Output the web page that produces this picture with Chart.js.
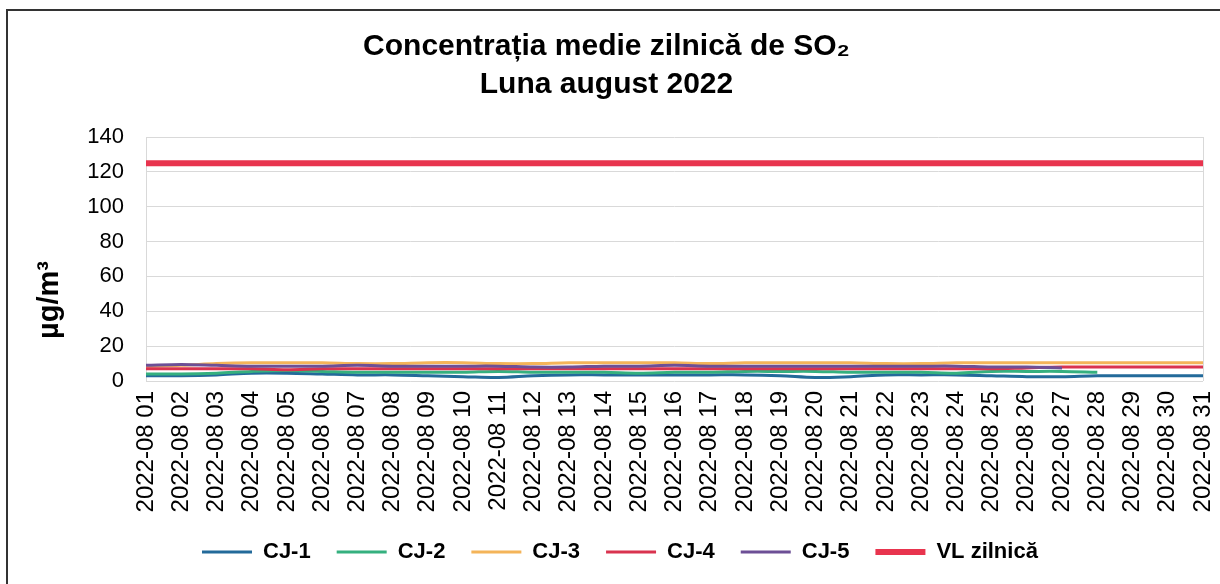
<!DOCTYPE html>
<html>
<head>
<meta charset="utf-8">
<script src="https://cdn.jsdelivr.net/npm/chart.js@4.4.1/dist/chart.umd.min.js"></script>
<style>
  html, body { margin: 0; padding: 0; background: #fff; overflow: hidden; }
  #wrap { position: relative; width: 1220px; height: 584px; }
  #frame { position: absolute; left: 6px; top: 9px; width: 1230px; height: 600px; border: 2px solid #333; box-sizing: border-box; }
  canvas { position: absolute; left: 0; top: 0; }
</style>
</head>
<body>
<div id="wrap">
  <div id="frame"></div>
  <canvas id="chart" width="1220" height="584"></canvas>
</div>
<script>
const days = [];
for (let d = 1; d <= 31; d++) days.push('2022-08 ' + String(d).padStart(2, '0'));

const cj1 = [3, 3, 3.5, 4.5, 4.5, 4, 3.5, 3.5, 3, 2.5, 2, 3, 3.5, 3.5, 3.5, 3.5, 3.5, 3.5, 3, 2, 2.5, 3.5, 3.5, 3.5, 3, 2.5, 2.5, 3, 3, 3, 3];
const cj2 = [4, 4, 4.5, 5.5, 6, 5.5, 5, 5, 5, 5, 5.5, 5, 5, 5, 4.5, 5, 5, 5.5, 5.5, 5.5, 5, 5, 5, 4.5, 5.5, 5.5, 5.5, 5, null, null, null];
const cj3 = [8.5, 9, 10, 10.5, 10.5, 10.5, 10, 10, 10.5, 10.5, 10, 10, 10.5, 10.5, 10.5, 10.5, 10, 10.5, 10.5, 10.5, 10.5, 10, 10, 10.5, 10.5, 10.5, 10.5, 10.5, 10.5, 10.5, 10.5];
const cj4 = [7, 7, 7, 7, 6.5, 7, 7, 7, 7, 7, 7, 7, 7, 7, 7, 7, 7, 7, 7, 7, 7, 7, 7, 7, 7, 7.5, 8, 8, 8, 8, 8];
const cj5 = [9, 9.5, 9, 8.5, 8.5, 8.5, 9, 8.5, 8.5, 8.5, 8.5, 8, 8, 8.5, 8.5, 9, 8.5, 8.5, 8.5, 8.5, 8.5, 8.5, 8.5, 8.5, 8, 8, 7.5, null, null, null, null];
const vl = days.map(() => 125);

const names = ['CJ-1', 'CJ-2', 'CJ-3', 'CJ-4', 'CJ-5', 'VL zilnică'];
const colors = ['#236a9a', '#35b07f', '#f4b459', '#d9334f', '#6d4f96', '#e8344e'];
const widths = [3, 3, 3, 3, 3, 6];
const series = [cj1, cj2, cj3, cj4, cj5, vl];

Chart.defaults.font.family = '"Liberation Sans", Arial, sans-serif';
Chart.defaults.color = '#000';

// y title drawn by hand, it sits below the axis middle in the original
const yTitle = {
  id: 'yTitle',
  afterDraw(chart) {
    const ctx = chart.ctx;
    ctx.save();
    ctx.translate(50, 300);
    ctx.rotate(-Math.PI / 2);
    ctx.font = 'bold 29px "Liberation Sans", Arial, sans-serif';
    ctx.fillStyle = '#000';
    ctx.textAlign = 'center';
    ctx.textBaseline = 'middle';
    ctx.fillText('µg/m³', 0, 0);
    ctx.restore();
  }
};

// place legend row like the original
const legendShift = {
  id: 'legendShift',
  afterLayout(chart) {
    chart.legend.left = 176;
    chart.legend.top = 515;
  }
};

new Chart(document.getElementById('chart'), {
  type: 'line',
  data: {
    labels: days,
    datasets: series.map((s, i) => ({
      label: names[i],
      data: s,
      borderColor: colors[i],
      backgroundColor: colors[i],
      borderWidth: widths[i],
      pointRadius: 0,
      tension: 0.35,
      order: series.length - i
    }))
  },
  options: {
    responsive: false,
    animation: false,
    layout: { padding: { left: 10, right: 17, top: 0, bottom: 0 } },
    plugins: {
      title: {
        display: true,
        text: ['Concentrația medie zilnică de SO₂', 'Luna august 2022'],
        color: '#000',
        font: { size: 30, weight: 'bold', lineHeight: 1.25 },
        padding: { top: 28, bottom: 34 }
      },
      legend: {
        position: 'bottom',
        align: 'start',
        labels: {
          usePointStyle: true,
          pointStyle: 'line',
          pointStyleWidth: 50,
          padding: 26,
          color: '#000',
          font: { size: 22, weight: 'bold' },
          sort: (a, b) => a.datasetIndex - b.datasetIndex
        }
      },
      tooltip: { enabled: false }
    },
    scales: {
      x: {
        offset: false,
        grid: {
          drawTicks: false,
          color: (c) => (c.index === 0 || c.index === days.length - 1) ? '#d9d9d9' : 'rgba(0,0,0,0)'
        },
        border: { display: false },
        ticks: { autoSkip: false, minRotation: 90, maxRotation: 90, padding: 10, font: { size: 24 } },
        afterFit(s) {
          s.height = 145;
          s.paddingLeft = 0;
          s.paddingRight = 0;
        }
      },
      y: {
        min: 0,
        max: 140,
        grid: { color: '#d9d9d9', drawTicks: false },
        border: { display: false },
        ticks: { stepSize: 20, padding: 22, font: { size: 22 } },
        afterFit(s) { s.width = 136; }
      }
    }
  },
  plugins: [yTitle, legendShift]
});
</script>
</body>
</html>
